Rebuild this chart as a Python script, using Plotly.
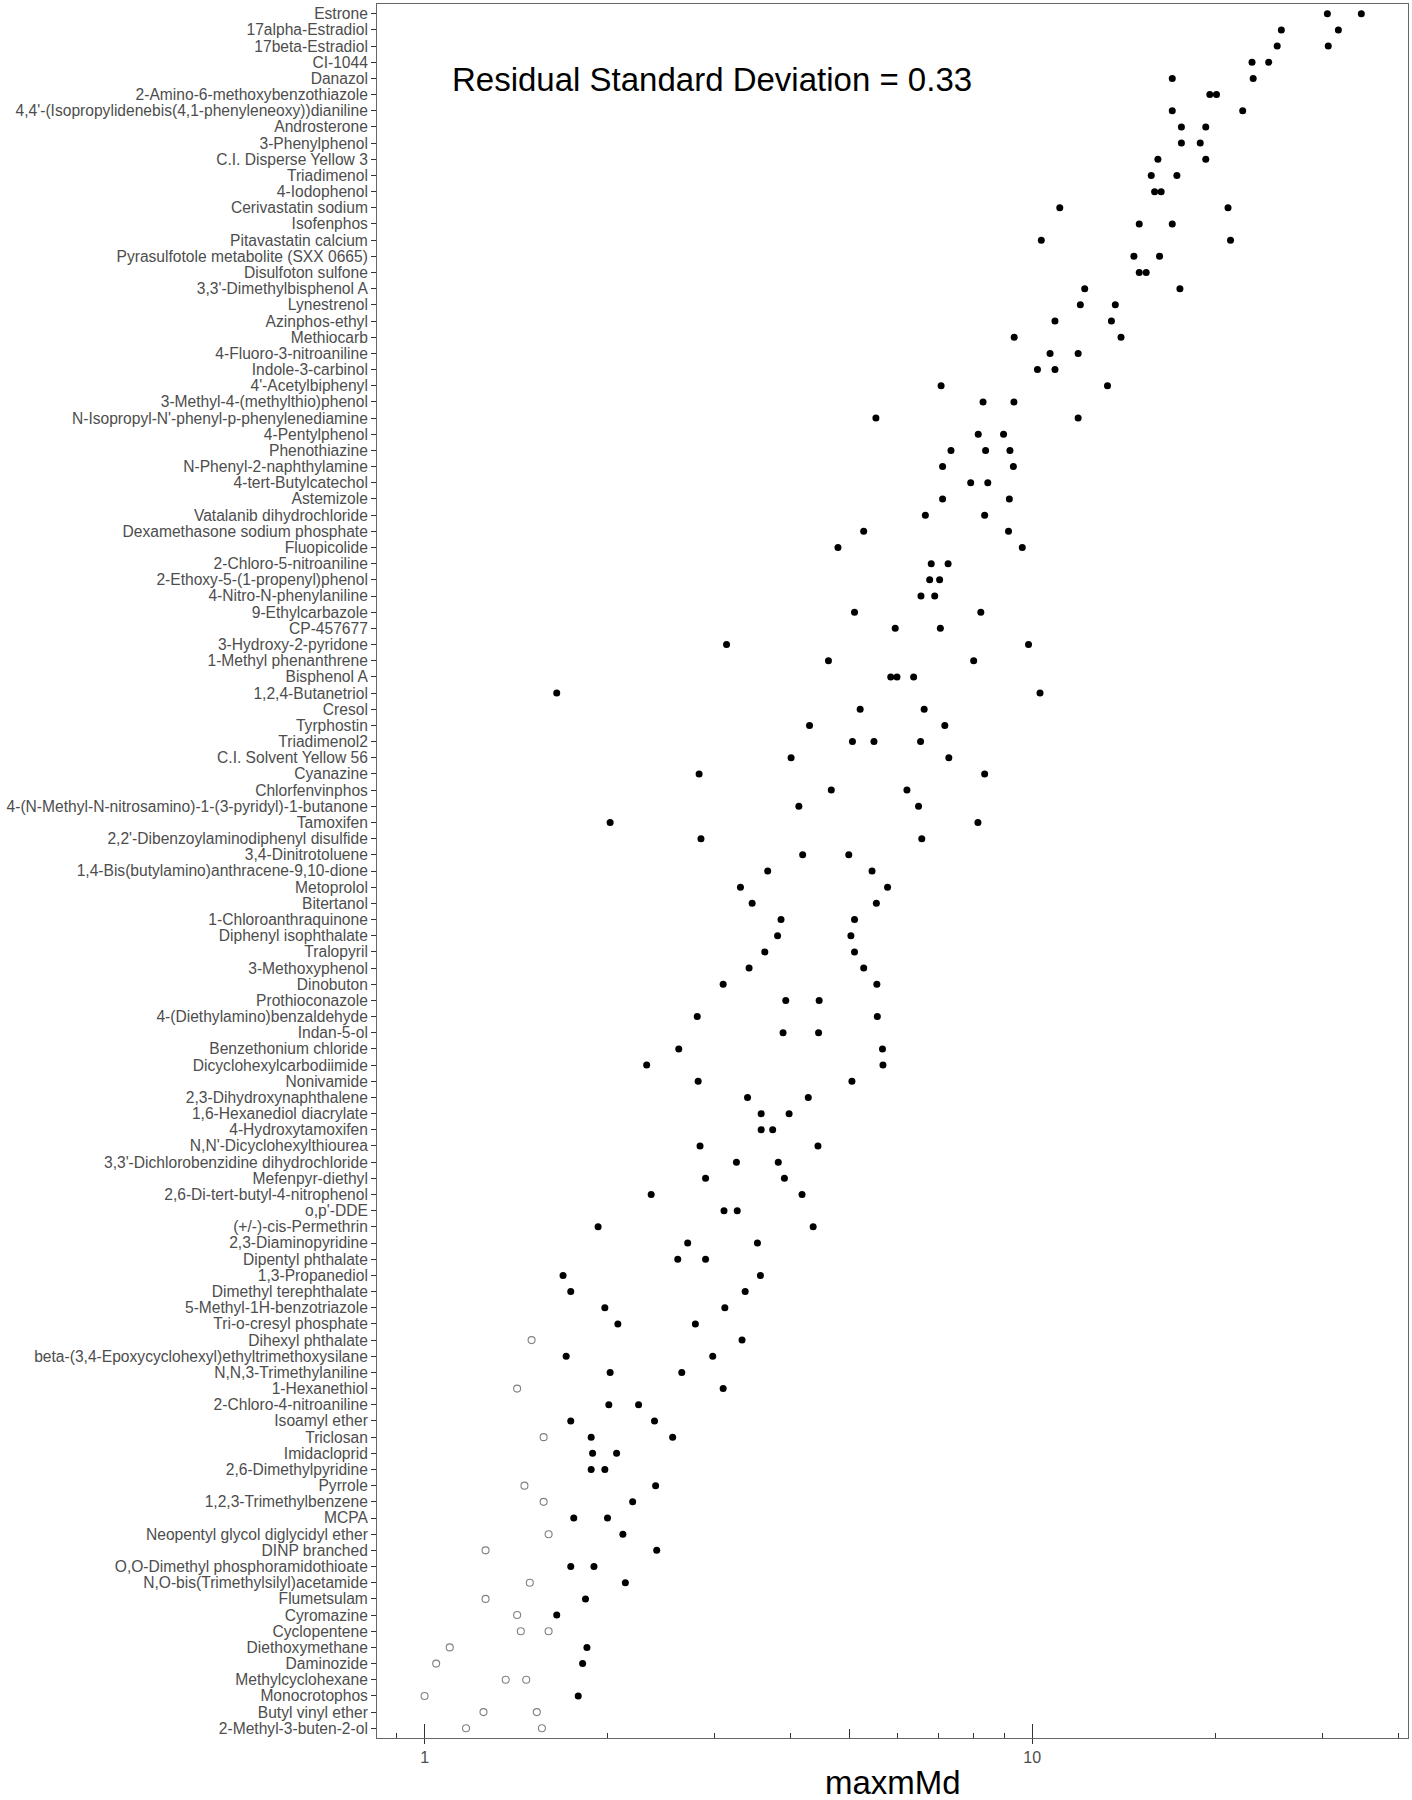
""" Dot plot of maxmMd per compound on a log axis, detected values filled and censored values open. """

import plotly.graph_objects as go

compounds = [
    "Estrone", "17alpha-Estradiol", "17beta-Estradiol", "CI-1044", "Danazol",
    "2-Amino-6-methoxybenzothiazole", "4,4'-(Isopropylidenebis(4,1-phenyleneoxy))dianiline",
    "Androsterone", "3-Phenylphenol", "C.I. Disperse Yellow 3", "Triadimenol", "4-Iodophenol",
    "Cerivastatin sodium", "Isofenphos", "Pitavastatin calcium", "Pyrasulfotole metabolite (SXX 0665)",
    "Disulfoton sulfone", "3,3'-Dimethylbisphenol A", "Lynestrenol", "Azinphos-ethyl", "Methiocarb",
    "4-Fluoro-3-nitroaniline", "Indole-3-carbinol", "4'-Acetylbiphenyl", "3-Methyl-4-(methylthio)phenol",
    "N-Isopropyl-N'-phenyl-p-phenylenediamine", "4-Pentylphenol", "Phenothiazine",
    "N-Phenyl-2-naphthylamine", "4-tert-Butylcatechol", "Astemizole", "Vatalanib dihydrochloride",
    "Dexamethasone sodium phosphate", "Fluopicolide", "2-Chloro-5-nitroaniline",
    "2-Ethoxy-5-(1-propenyl)phenol", "4-Nitro-N-phenylaniline", "9-Ethylcarbazole", "CP-457677",
    "3-Hydroxy-2-pyridone", "1-Methyl phenanthrene", "Bisphenol A", "1,2,4-Butanetriol", "Cresol",
    "Tyrphostin", "Triadimenol2", "C.I. Solvent Yellow 56", "Cyanazine", "Chlorfenvinphos",
    "4-(N-Methyl-N-nitrosamino)-1-(3-pyridyl)-1-butanone", "Tamoxifen",
    "2,2'-Dibenzoylaminodiphenyl disulfide", "3,4-Dinitrotoluene",
    "1,4-Bis(butylamino)anthracene-9,10-dione", "Metoprolol", "Bitertanol", "1-Chloroanthraquinone",
    "Diphenyl isophthalate", "Tralopyril", "3-Methoxyphenol", "Dinobuton", "Prothioconazole",
    "4-(Diethylamino)benzaldehyde", "Indan-5-ol", "Benzethonium chloride", "Dicyclohexylcarbodiimide",
    "Nonivamide", "2,3-Dihydroxynaphthalene", "1,6-Hexanediol diacrylate", "4-Hydroxytamoxifen",
    "N,N'-Dicyclohexylthiourea", "3,3'-Dichlorobenzidine dihydrochloride", "Mefenpyr-diethyl",
    "2,6-Di-tert-butyl-4-nitrophenol", "o,p'-DDE", "(+/-)-cis-Permethrin", "2,3-Diaminopyridine",
    "Dipentyl phthalate", "1,3-Propanediol", "Dimethyl terephthalate", "5-Methyl-1H-benzotriazole",
    "Tri-o-cresyl phosphate", "Dihexyl phthalate", "beta-(3,4-Epoxycyclohexyl)ethyltrimethoxysilane",
    "N,N,3-Trimethylaniline", "1-Hexanethiol", "2-Chloro-4-nitroaniline", "Isoamyl ether", "Triclosan",
    "Imidacloprid", "2,6-Dimethylpyridine", "Pyrrole", "1,2,3-Trimethylbenzene", "MCPA",
    "Neopentyl glycol diglycidyl ether", "DINP branched", "O,O-Dimethyl phosphoramidothioate",
    "N,O-bis(Trimethylsilyl)acetamide", "Flumetsulam", "Cyromazine", "Cyclopentene", "Diethoxymethane",
    "Daminozide", "Methylcyclohexane", "Monocrotophos", "Butyl vinyl ether", "2-Methyl-3-buten-2-ol",
]

# detected maxmMd values, one list per compound (same order as compounds)
detected = [
    [30.6, 34.8], [25.7, 31.9], [25.3, 30.7], [23.0, 24.5], [17.0, 23.1],
    [19.6, 20.1], [17.0, 22.2], [17.6, 19.3], [17.6, 18.9], [16.1, 19.3],
    [15.7, 17.3], [15.9, 16.3], [11.1, 21.0], [15.0, 17.0], [10.35, 21.2],
    [14.7, 16.2], [15.0, 15.4], [12.2, 17.5], [12.0, 13.7], [10.9, 13.5],
    [9.34, 14.0], [10.7, 11.9], [10.2, 10.9], [7.08, 13.3], [8.30, 9.33],
    [5.53, 11.9], [8.15, 8.97], [7.35, 8.38, 9.19], [7.12, 9.31], [7.92, 8.45],
    [7.12, 9.17], [6.67, 8.35], [5.28, 9.14], [4.79, 9.63], [6.82, 7.27],
    [6.78, 7.04], [6.56, 6.91], [5.10, 8.23], [5.95, 7.06], [3.14, 9.86],
    [4.62, 8.01], [5.85, 5.99, 6.38], [1.65, 10.3], [5.21, 6.64], [4.30, 7.18],
    [5.06, 5.49, 6.55], [4.01, 7.29], [2.83, 8.35], [4.67, 6.22], [4.13, 6.50],
    [2.02, 8.14], [2.85, 6.58], [4.19, 4.99], [3.67, 5.45], [3.31, 5.78],
    [3.46, 5.54], [3.86, 5.10], [3.81, 5.03], [3.63, 5.10], [3.42, 5.28],
    [3.10, 5.55], [3.93, 4.46], [2.81, 5.56], [3.89, 4.45], [2.62, 5.67],
    [2.32, 5.68], [2.82, 5.05], [3.40, 4.28], [3.58, 3.98], [3.58, 3.74],
    [2.84, 4.44], [3.26, 3.82], [2.90, 3.91], [2.36, 4.18], [3.11, 3.27],
    [1.93, 4.36], [2.71, 3.53], [2.61, 2.90], [1.69, 3.57], [1.74, 3.37],
    [1.98, 3.12], [2.08, 2.79], [3.33], [1.71, 2.98], [2.02, 2.65],
    [3.10], [2.01, 2.25], [1.74, 2.39], [1.88, 2.56], [1.89, 2.07],
    [1.88, 1.98], [2.40], [2.20], [1.76, 2.00], [2.12],
    [2.41], [1.74, 1.90], [2.14], [1.84], [1.65],
    [], [1.85], [1.82], [], [1.79],
    [], [],
]

# non-detected (censored) values, drawn as open circles
open_compounds = [
    "Dihexyl phthalate", "1-Hexanethiol", "Triclosan", "Pyrrole", "1,2,3-Trimethylbenzene",
    "Neopentyl glycol diglycidyl ether", "DINP branched", "N,O-bis(Trimethylsilyl)acetamide",
    "Flumetsulam", "Cyromazine", "Cyclopentene", "Cyclopentene", "Diethoxymethane", "Daminozide",
    "Methylcyclohexane", "Methylcyclohexane", "Monocrotophos", "Butyl vinyl ether", "Butyl vinyl ether",
    "2-Methyl-3-buten-2-ol", "2-Methyl-3-buten-2-ol",
]
open_values = [
    1.50, 1.42, 1.57, 1.46, 1.57,
    1.60, 1.26, 1.49,
    1.26, 1.42, 1.44, 1.60, 1.10, 1.045,
    1.36, 1.47, 1.00, 1.25, 1.53,
    1.17, 1.56,
]

x_major = [1, 10]
x_mid = [5]
x_short = [0.9, 2, 3, 4, 6, 7, 8, 9, 20, 30, 40]

residual_sd = 0.33

FONT = "Liberation Sans, Arial, sans-serif"
x_range = [-0.0783, 1.6184]

filled_x = [v for vals in detected for v in vals]
filled_y = [name for name, vals in zip(compounds, detected) for v in vals]

trace1 = go.Scatter(
    x = filled_x,
    y = filled_y,
    mode = "markers",
    marker = {"color": "black", "size": 7, "symbol": "circle"},
    name = "Detected",
    )
trace2 = go.Scatter(
    x = open_values,
    y = open_compounds,
    xaxis = "x2",
    mode = "markers",
    marker = {"color": "#808080", "size": 7, "symbol": "circle-open", "line": {"width": 1.1}},
    name = "Not detected",
    )

layout = go.Layout(
    width = 1412,
    height = 1800,
    margin = {"l": 377, "r": 4, "t": 4, "b": 62},
    paper_bgcolor = "white",
    plot_bgcolor = "white",
    showlegend = False,
    xaxis = {
        "type": "log",
        "range": x_range,
        "tickmode": "array",
        "tickvals": x_major,
        "ticktext": [str(v) for v in x_major],
        "ticks": "outside",
        "ticklen": 5,
        "tickcolor": "#333333",
        "tickfont": {"family": FONT, "size": 16, "color": "#4D4D4D"},
        "minor": {"ticks": "inside", "tickmode": "array", "tickvals": x_short,
                  "ticklen": 5, "tickcolor": "#333333", "showgrid": False},
        "showgrid": False,
        "zeroline": False,
        "showline": True,
        "mirror": True,
        "linecolor": "#666666",
        "linewidth": 1,
        "automargin": False,
        },
    xaxis2 = {
        "type": "log",
        "range": x_range,
        "overlaying": "x",
        "anchor": "y",
        "side": "bottom",
        "tickmode": "array",
        "tickvals": x_major,
        "ticks": "inside",
        "ticklen": 14,
        "tickcolor": "#333333",
        "showticklabels": False,
        "minor": {"ticks": "inside", "tickmode": "array", "tickvals": x_mid,
                  "ticklen": 9, "tickcolor": "#333333", "showgrid": False},
        "showgrid": False,
        "zeroline": False,
        "showline": False,
        },
    yaxis = {
        "type": "category",
        "categoryorder": "array",
        "categoryarray": compounds[::-1],
        "tickmode": "array",
        "tickvals": compounds,
        "ticktext": compounds,
        "range": [-0.6, len(compounds) - 0.4],
        "ticks": "outside",
        "ticklen": 5,
        "tickcolor": "#333333",
        "tickfont": {"family": FONT, "size": 15.6, "color": "#4D4D4D"},
        "showgrid": False,
        "zeroline": False,
        "showline": True,
        "mirror": True,
        "linecolor": "#666666",
        "linewidth": 1,
        "automargin": False,
        },
    annotations = [
        {"text": "Residual Standard Deviation = %.2f" % residual_sd,
         "xref": "paper", "yref": "paper", "x": 0.3245, "y": 0.9563,
         "xanchor": "center", "yanchor": "middle", "showarrow": False,
         "font": {"family": FONT, "size": 33, "color": "black"}},
        {"text": "maxmMd",
         "xref": "paper", "yref": "paper", "x": 0.5, "y": -0.0375,
         "xanchor": "center", "yanchor": "bottom", "showarrow": False,
         "font": {"family": FONT, "size": 33, "color": "black"}},
        ],
    )
fig = go.Figure(data = [trace1, trace2], layout = layout)
fig.write_html("out.html", config = {"displayModeBar": False},
               post_script = "document.body.style.margin = '0';")
